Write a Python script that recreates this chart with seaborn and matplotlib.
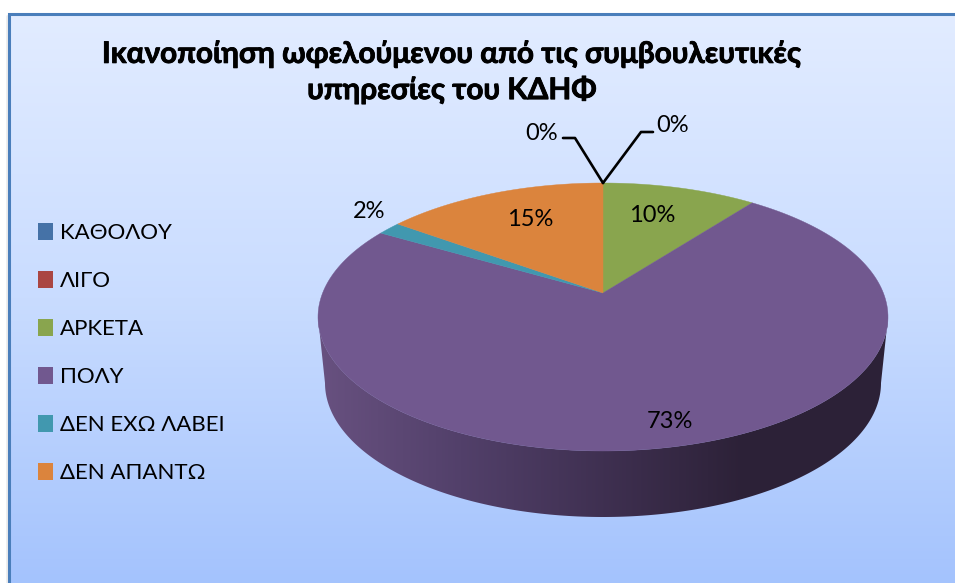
import numpy as np
import matplotlib
matplotlib.use('Agg')
import matplotlib.pyplot as plt
import matplotlib.patheffects as pe
from matplotlib.patches import Patch, Polygon
import seaborn as sns

categories = ['ΚΑΘΟΛΟΥ', 'ΛΙΓΟ', 'ΑΡΚΕΤΑ', 'ΠΟΛΥ', 'ΔΕΝ ΕΧΩ ΛΑΒΕΙ', 'ΔΕΝ ΑΠΑΝΤΩ']
values = [0, 0, 10.4, 73.0, 1.6, 15]
slice_colors = ['#4572A7', '#AA4643', '#89A54E', '#71588F', '#4198AF', '#DB843D']
title_text = 'Ικανοποίηση ωφελούμενου από τις συμβουλευτικές\nυπηρεσίες του ΚΔΗΦ'

sns.set_theme(style='white')
plt.rcParams['font.family'] = ['Lato', 'Noto Sans', 'DejaVu Sans']

W, H = 955, 583
fig = plt.figure(figsize=(W / 100, H / 100), dpi=100, facecolor='white')
ax = fig.add_axes([0, 0, 1, 1])
ax.axis('off')

# background panel with vertical gradient
bg_cmap = sns.blend_palette(['#e2ecff', '#c9dcff', '#a4c3fd'], as_cmap=True)
ax.imshow(np.linspace(0, 1, 256).reshape(-1, 1), cmap=bg_cmap, aspect='auto',
          extent=[9, W, H, 14], zorder=0)
ax.plot([6.5, 6.5], [16, H], color='#ececec', lw=2, zorder=0)
ax.plot([9, 9, W], [H, 14, 14], color='#4a7ebb', lw=2.2, zorder=1, solid_joinstyle='miter')

# pie geometry in pixels, the perspective moves the centre up from the ellipse centre
cx, cy = 603, 317
rx, ry = 285, 134
apex_shift = 24
depth = 66
rx_low = 278
k = apex_shift / ry


def project(theta, radius_x=rx, center_y=cy):
    # theta is clockwise from 12 o'clock, in radians
    x, y = np.sin(theta), np.cos(theta)
    a = radius_x * np.sqrt(1 - k ** 2)
    d = 1 + k * y
    return cx + a * x / d, center_y - (ry * y + apex_shift) / d


shares = np.array(values) / sum(values)
edges = np.concatenate([[0], np.cumsum(shares)]) * 2 * np.pi
vis_start = np.arccos(-k)
vis_end = 2 * np.pi - vis_start

# side wall, only the front part shows
side_cmap = sns.blend_palette(['#685180', '#52406a', '#3f3051', '#2c2137', '#2d2238'], as_cmap=True)
for i in range(len(values)):
    t0, t1 = max(edges[i], vis_start), min(edges[i + 1], vis_end)
    if t1 <= t0:
        continue
    t = np.linspace(t0, t1, 200)
    xt, yt = project(t)
    xb, yb = project(t[::-1], rx_low, cy + depth)
    side = Polygon(np.column_stack([np.r_[xt, xb], np.r_[yt, yb]]), closed=True,
                   transform=ax.transData, fc='none', ec='none')
    ax.add_patch(side)
    im = ax.imshow(np.linspace(0, 1, 256).reshape(1, -1), cmap=side_cmap, aspect='auto',
                   extent=[cx - rx, cx + rx, cy + depth + ry, cy], zorder=2)
    im.set_clip_path(side)

# top face
for i, val in enumerate(values):
    if val == 0:
        continue
    t = np.linspace(edges[i], edges[i + 1], 200)
    xs, ys = project(t)
    ax.fill(np.r_[cx, xs], np.r_[cy - apex_shift, ys], color=slice_colors[i], lw=0.3, zorder=3)

# data labels
label_xy = [(542, 134), (673, 126), (652, 215), (670, 421), (369, 212), (530, 220)]
for val, (lx, ly) in zip(values, label_xy):
    ax.text(lx, ly, f'{val:.0f}%', ha='center', va='center', fontsize=17, color='black', zorder=5)

# leader lines for the two empty slices
x0, y0 = project(edges[0])
ax.plot([563, 575, x0], [138, 138, y0], color='black', lw=1.9, zorder=4)
ax.plot([653, 641, x0], [132, 132, y0], color='black', lw=1.9, zorder=4)

title = ax.text(452, 71.5, title_text, ha='center', va='center', fontsize=21.4, fontweight='bold',
                color='black', linespacing=1.3, zorder=5)
title.set_path_effects([pe.withStroke(linewidth=0.6, foreground='black')])

handles = [Patch(fc=c, ec='none') for c in slice_colors]
ax.legend(handles, categories, loc='upper left', bbox_to_anchor=(38 / W, 1 - 222.5 / H),
          bbox_transform=ax.transAxes, frameon=False, fontsize=16, borderpad=0, borderaxespad=0,
          handlelength=0.675, handleheight=0.8, handletextpad=0.33, labelspacing=1.255,
          labelcolor='black')

ax.set_xlim(0, W)
ax.set_ylim(H, 0)
fig.savefig('out.png', dpi=100, facecolor='white')
